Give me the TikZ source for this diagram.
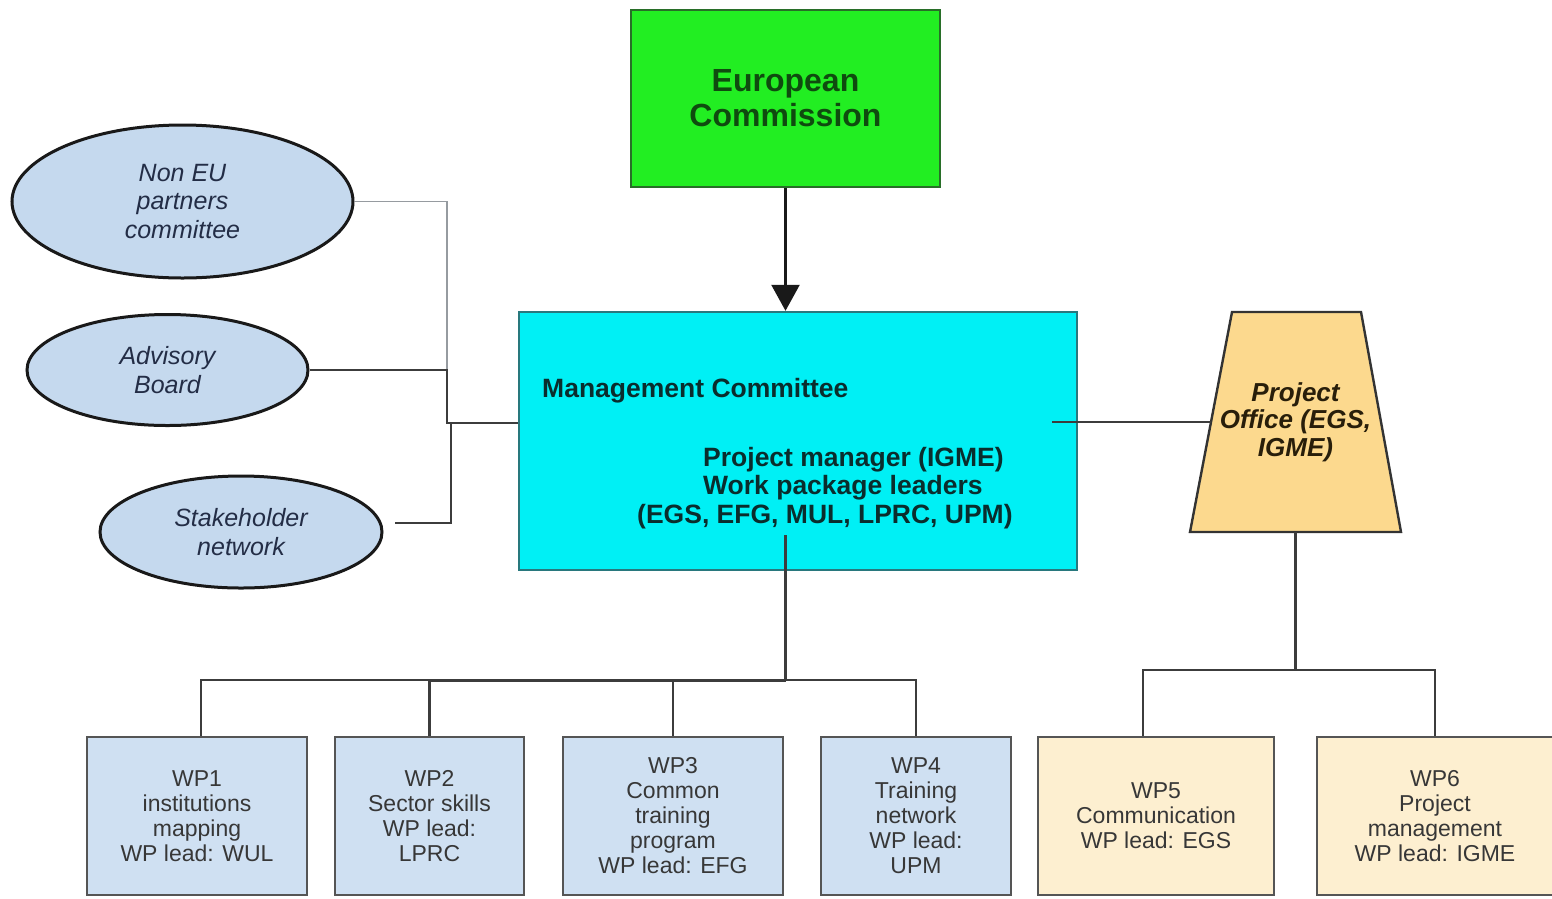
\documentclass[tikz,border=0pt]{standalone}
\usepackage{fontspec}
\setmainfont{Liberation Sans}
\usetikzlibrary{shapes.geometric,arrows.meta,calc}
\definecolor{ecgreen}{RGB}{34,238,34}
\definecolor{ecborder}{RGB}{40,110,40}
\definecolor{ectext}{RGB}{15,75,15}
\definecolor{mccyan}{RGB}{0,240,245}
\definecolor{mcborder}{RGB}{40,120,125}
\definecolor{mctext}{RGB}{10,45,45}
\definecolor{elfill}{RGB}{197,217,238}
\definecolor{eltext}{RGB}{35,45,70}
\definecolor{pofill}{RGB}{252,217,142}
\definecolor{potext}{RGB}{40,30,10}
\definecolor{wpblue}{RGB}{207,224,242}
\definecolor{wpcream}{RGB}{253,239,208}
\definecolor{wpborder}{RGB}{85,85,85}
\definecolor{wptext}{RGB}{55,55,55}
\definecolor{lineclr}{RGB}{60,60,60}
\definecolor{lightline}{RGB}{150,155,160}
\tikzset{
  ecbox/.style={draw=ecborder, line width=2pt, fill=ecgreen, inner sep=0pt,
    minimum width=309pt, minimum height=177pt, align=center, text=ectext,
    font=\fontsize{32}{35}\selectfont\bfseries},
  mcbox/.style={draw=mcborder, line width=2.4pt, fill=mccyan, inner sep=0pt,
    minimum width=558pt, minimum height=258pt},
  mctxt/.style={inner sep=0pt, text=mctext, font=\fontsize{26.5}{28.5}\selectfont\bfseries},
  oval/.style={ellipse, draw=black!90, line width=3pt, fill=elfill, inner sep=0pt,
    align=center, text=eltext, font=\fontsize{25}{28.5}\selectfont\itshape},
  officeshape/.style={draw=black!80, line width=2.4pt, fill=pofill},
  officetxt/.style={inner sep=0pt, align=center,
    text=potext, font=\fontsize{26}{27.5}\selectfont\bfseries\itshape},
  wpbox/.style={draw=wpborder, line width=2pt, inner sep=0pt, minimum height=158pt,
    align=center, text=wptext, font=\fontsize{23}{25}\selectfont},
  conn/.style={draw=lineclr, line width=2.2pt},
  thickconn/.style={draw=lineclr, line width=3pt},
  lightconn/.style={draw=lightline, line width=1.6pt},
  arrowconn/.style={draw=black!90, line width=2.4pt, -{Triangle[length=26pt,width=28pt]}}
}
\begin{document}
\begin{tikzpicture}[x=1pt,y=-1pt]
\useasboundingbox (0,0) rectangle (1552,898);
% top
\node[ecbox] (ec) at (785.5,98.5) {European\\Commission};
\node[mcbox] (mc) at (798,441) {};
\node[mctxt, anchor=base west] (mct) at (542,397) {Management Committee};
\node[mctxt, anchor=base west, align=left] (mcl) at (703,494.5) {Project manager (IGME)\\Work package leaders};
\node[mctxt, anchor=base west] (mcw) at (637,523) {(EGS, EFG, MUL, LPRC, UPM)};
\draw[arrowconn] (ec.south) -- (ec.south |- mc.north);
% left ovals
\node[oval, minimum width=341pt, minimum height=153pt] (ne) at (182.5,201.5) {Non EU\\partners\\committee};
\node[oval, minimum width=281pt, minimum height=111pt] (ab) at (167.5,370) {Advisory\\Board};
\node[oval, minimum width=282pt, minimum height=112pt] (sh) at (241,532) {Stakeholder\\network};
\coordinate (j) at (449,423);
\coordinate (jab) at (ab.east -| 447,0);
\coordinate (shend) at (395,523);
\draw[lightconn] (ne.east) -| (jab);
\draw[conn] (ab.east) -- (jab) -- (447,423);
\draw[conn] (shend) -- (451,523) -- (451,423);
\draw[conn] (446,423) -- (j -| mc.west);
% project office (trapezoid)
\draw[officeshape] (1232,312) -- (1361,312) -- (1401,532) -- (1190,532) -- cycle;
\node[officetxt] (po) at (1295.5,422) {Project\\Office (EGS,\\IGME)};
\coordinate (pow) at (1211,422);
\coordinate (pos) at (1295.5,532);
\coordinate (mcr) at (1052,422);
\draw[conn] (mcr) -- (pow);
% WP boxes
\node[wpbox, fill=wpblue, minimum width=220pt] (wp1) at (197,816) {WP1\\institutions\\mapping\\WP lead: WUL};
\node[wpbox, fill=wpblue, minimum width=189pt] (wp2) at (429.5,816) {WP2\\Sector skills\\WP lead:\\LPRC};
\node[wpbox, fill=wpblue, minimum width=220pt] (wp3) at (673,816) {WP3\\Common\\training\\program\\WP lead: EFG};
\node[wpbox, fill=wpblue, minimum width=190pt] (wp4) at (916,816) {WP4\\Training\\network\\WP lead:\\UPM};
\node[wpbox, fill=wpcream, minimum width=236pt] (wp5) at (1156,816) {WP5\\Communication\\WP lead: EGS};
\node[wpbox, fill=wpcream, minimum width=236pt] (wp6) at (1435,816) {WP6\\Project\\management\\WP lead: IGME};
% bottom tree from management committee
\coordinate (mcb) at (785.5,535);
\coordinate (bus) at (785.5,680);
\draw[conn] (mcb) -- (bus);
\draw[thickconn] (bus) -| (wp2.north);
\draw[conn] (bus) -| ($(wp1.north)+(4,0)$);
\draw[conn] (bus) -| (wp3.north);
\draw[conn] (bus) -| (wp4.north);
% bottom tree from project office
\coordinate (pob) at (1295.5,670);
\draw[conn] (pos) -- (pob);
\draw[conn] (pob) -| ($(wp5.north)+(-13,0)$);
\draw[conn] (pob) -| (wp6.north);
\end{tikzpicture}
\end{document}
